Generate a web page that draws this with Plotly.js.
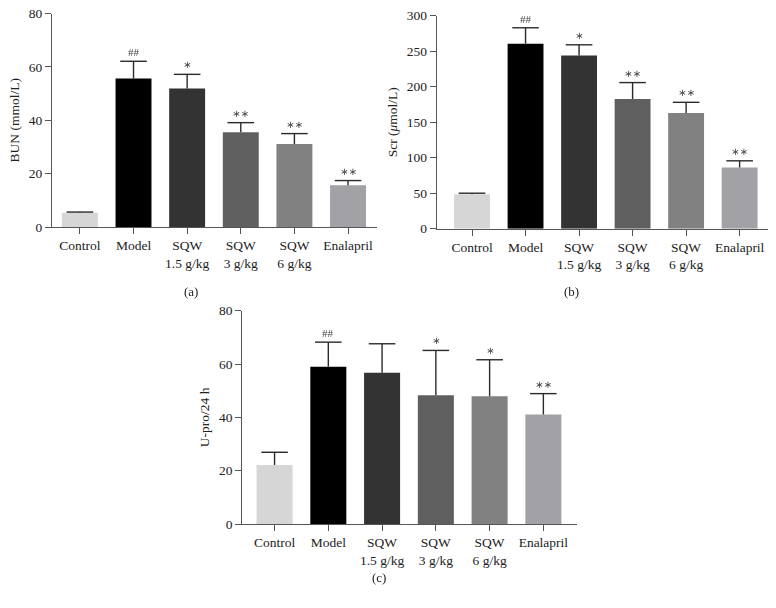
<!DOCTYPE html>
<html>
<head>
<meta charset="utf-8">
<script src="https://cdn.plot.ly/plotly-3.0.1.min.js"></script>
<style>
html,body{margin:0;padding:0;background:#fff;}
#chart{width:776px;height:608px;}
#chart .annotation{filter:grayscale(100%);}
</style>
</head>
<body>
<div id="chart"></div>
<script>
// Data
const categories = ["Control", "Model", "SQW<br>1.5 g/kg", "SQW<br>3 g/kg", "SQW<br>6 g/kg", "Enalapril"];
const barColors = ["#d6d6d6", "#000000", "#333333", "#5f5f5f", "#818181", "#a1a1a6"];

const bunMean = [5.3, 55.6, 51.9, 35.5, 31.1, 15.6];
const bunErr  = [0.3, 6.5, 5.3, 3.6, 3.9, 1.8];
const bunSig  = ["", "##", "∗", "∗∗", "∗∗", "∗∗"];

const scrMean = [48.6, 260.5, 244.0, 182.8, 163.0, 86.2];
const scrErr  = [1.4, 22.5, 15.0, 23.0, 15.0, 9.4];
const scrSig  = ["", "##", "∗", "∗∗", "∗∗", "∗∗"];

const uproMean = [22.1, 59.0, 56.7, 48.3, 47.9, 41.1];
const uproErr  = [4.8, 9.2, 10.9, 16.8, 13.7, 7.8];
const uproSig  = ["", "##", "", "∗", "∗", "∗∗"];

const panelLabels = ["(a)", "(b)", "(c)"];
const yTitles = ["BUN (mmol/L)", "Scr (<i>μ</i>mol/L)", "U-pro/24 h"];

const FONT = "Liberation Serif, Times New Roman, serif";
const idx = categories.map((_, i) => i);

function barTrace(vals, xa, ya) {
  return {
    type: "bar", x: idx, y: vals, xaxis: xa, yaxis: ya,
    width: 0.67,
    marker: {color: barColors, line: {width: 0}},
    showlegend: false, hoverinfo: "skip"
  };
}
// error bar: a cap marker at mean+err, stem drawn downward to the mean
function errTrace(vals, errs, xa, ya) {
  return {
    type: "scatter", mode: "markers", x: idx, y: vals.map((v, i) => v + errs[i]), xaxis: xa, yaxis: ya,
    marker: {symbol: "line-ew-open", size: 19, color: "#2a2a2a", line: {width: 1.4, color: "#2a2a2a"}},
    error_y: {type: "data", symmetric: false, array: errs.map(() => 0), arrayminus: errs,
              color: "#2a2a2a", thickness: 1.4, width: 0},
    showlegend: false, hoverinfo: "skip", cliponaxis: false
  };
}

const data = [
  barTrace(bunMean, "x", "y"), errTrace(bunMean, bunErr, "x", "y"),
  barTrace(scrMean, "x2", "y2"), errTrace(scrMean, scrErr, "x2", "y2"),
  barTrace(uproMean, "x3", "y3"), errTrace(uproMean, uproErr, "x3", "y3")
];

const annotations = [];
function addSig(sig, vals, errs, xr, yr) {
  sig.forEach((s, i) => {
    if (!s) return;
    const isHash = s.indexOf("#") >= 0;
    annotations.push({x: i, y: vals[i] + errs[i], xref: xr, yref: yr, text: s, showarrow: false,
      xanchor: "center", yanchor: "bottom", yshift: isHash ? 1 : 2,
      font: {family: isHash ? FONT : "DejaVu Sans, sans-serif", size: isHash ? 11 : 10, color: "#444"}});
  });
}
addSig(bunSig, bunMean, bunErr, "x", "y");
addSig(scrSig, scrMean, scrErr, "x2", "y2");
addSig(uproSig, uproMean, uproErr, "x3", "y3");

const labFont = {family: FONT, size: 13, color: "#222"};
annotations.push({x: 191/776, y: 1 - 291/608, xref: "paper", yref: "paper", xanchor: "center", yanchor: "middle", text: panelLabels[0], showarrow: false, font: labFont});
annotations.push({x: 571/776, y: 1 - 291/608, xref: "paper", yref: "paper", xanchor: "center", yanchor: "middle", text: panelLabels[1], showarrow: false, font: labFont});
annotations.push({x: 379/776, y: 1 - 577/608, xref: "paper", yref: "paper", xanchor: "center", yanchor: "middle", text: panelLabels[2], showarrow: false, font: labFont});

function xAxis(domain, range, anchor) {
  return {domain: domain, range: range, anchor: anchor, tickvals: idx, ticktext: categories,
    showline: true, linecolor: "#555", linewidth: 1, ticks: "outside", ticklen: 6, tickcolor: "#555",
    showgrid: false, zeroline: false, tickfont: {family: FONT, size: 13.5, color: "#222"}, fixedrange: true};
}
function yAxis(domain, range, dtick, anchor, title) {
  return {domain: domain, range: range, dtick: dtick, anchor: anchor, tick0: 0,
    showline: true, linecolor: "#555", linewidth: 1, ticks: "outside", ticklen: 6, tickcolor: "#555",
    showgrid: false, zeroline: false, tickfont: {family: FONT, size: 13.5, color: "#222"},
    title: {text: title, font: {family: FONT, size: 13.5, color: "#222"}, standoff: 6}, fixedrange: true};
}

const layout = {
  width: 776, height: 608,
  margin: {l: 0, r: 0, t: 0, b: 0},
  paper_bgcolor: "#fff", plot_bgcolor: "#fff",
  xaxis: xAxis([52/776, 377/776], [-0.52, 5.54], "y"),
  yaxis: yAxis([1 - 227/608, 1 - 13.5/608], [0, 80], 20, "x", yTitles[0]),
  xaxis2: xAxis([436.7/776, 768/776], [-0.66, 5.53], "y2"),
  yaxis2: yAxis([1 - 228.7/608, 1 - 15.7/608], [0, 300], 50, "x2", yTitles[1]),
  xaxis3: xAxis([242.3/776, 576.7/776], [-0.6, 5.62], "y3"),
  yaxis3: yAxis([1 - 524/608, 1 - 310.7/608], [0, 80], 20, "x3", yTitles[2]),
  annotations: annotations
};

Plotly.newPlot("chart", data, layout, {displayModeBar: false, staticPlot: true});
</script>
</body>
</html>
